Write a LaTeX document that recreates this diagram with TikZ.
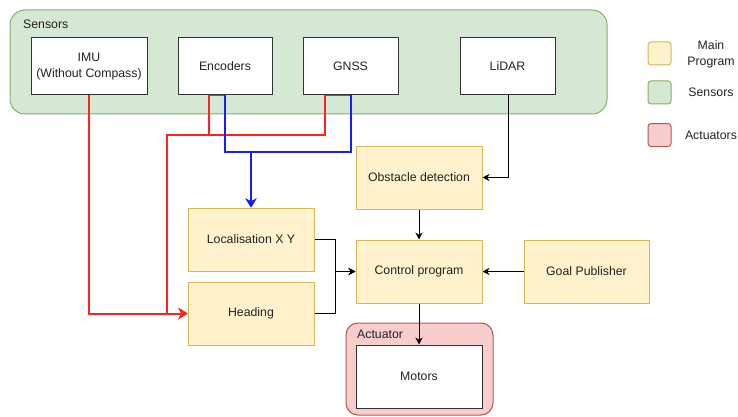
\documentclass[tikz,border=0pt]{standalone}
\usepackage{fontspec}
\setmainfont{Liberation Sans}
\usetikzlibrary{arrows.meta}
\definecolor{yfill}{HTML}{FFF2CC}
\definecolor{ydraw}{HTML}{D6B656}
\definecolor{gfill}{HTML}{D5E8D4}
\definecolor{gdraw}{HTML}{82B366}
\definecolor{rfill}{HTML}{F8CECC}
\definecolor{rdraw}{HTML}{B85450}
\definecolor{txt}{HTML}{222222}
\definecolor{redl}{HTML}{FF2020}
\definecolor{bluel}{HTML}{1A1AFF}
\pgfdeclarelayer{bg}
\pgfdeclarelayer{edges}
\pgfsetlayers{bg,edges,main}
\begin{document}
\begin{tikzpicture}[x=1pt,y=-1pt,
  lbl/.style={font=\fontsize{12.3}{15.5}\selectfont, text=txt, align=center, inner sep=0pt},
  box/.style={lbl, draw=black!80, line width=1pt, fill=white, minimum width=126pt, minimum height=57pt},
  ybox/.style={box, fill=yfill, draw=ydraw, line width=1pt, minimum height=63pt},
  grp/.style={rounded corners=#1, line width=1pt},
  leg/.style={rounded corners=3pt, line width=1pt, minimum width=23pt, minimum height=23pt, inner sep=0pt},
  bline/.style={draw=black, line width=0.9pt, -{Stealth[length=7pt,width=7pt]}},
  rline/.style={draw=redl, line width=2pt, -{Stealth[length=9pt,width=11pt]}},
  uline/.style={draw=bluel, line width=2pt, -{Stealth[length=9pt,width=11pt]}}
]
\useasboundingbox (0,0) rectangle (738,417);

% groups
\begin{pgfonlayer}{bg}
\node[grp=15pt, fill=gfill, draw=gdraw, minimum width=597pt, minimum height=104pt, inner sep=0pt] (sensors) at (308.5,62) {};
\node[grp=12pt, fill=rfill, draw=rdraw, minimum width=147pt, minimum height=92pt, inner sep=0pt] (actg) at (419.5,369) {};
\end{pgfonlayer}
\node[lbl, anchor=west] (sensorslbl) at (23,24) {Sensors};
\node[lbl, anchor=west] (actlbl) at (357,334) {Actuator};

% sensor boxes
\node[box, minimum width=116pt] (imu) at (89,66.5) {IMU\\(Without Compass)};
\node[box, minimum width=94pt] (enc) at (225,66.5) {Encoders};
\node[box, minimum width=95pt] (gnss) at (350.5,66.5) {GNSS};
\node[box, minimum width=95pt] (lidar) at (507.5,66.5) {LiDAR};

% program boxes
\node[ybox] (obst) at (419,177.5) {Obstacle detection};
\node[ybox] (ctrl) at (419,271.5) {Control program};
\node[ybox] (loc) at (251,239.5) {Localisation X Y};
\node[ybox] (head) at (251,313.5) {Heading};
\node[ybox, minimum width=125pt] (goal) at (586.5,271.5) {Goal Publisher};
\node[box, minimum height=63pt] (motors) at (419,376.5) {Motors};

% legend
\node[leg, fill=yfill, draw=ydraw] (legy) at (659.5,53.5) {};
\node[leg, fill=gfill, draw=gdraw] (legg) at (659.5,92.5) {};
\node[leg, fill=rfill, draw=rdraw] (legr) at (659.5,135) {};
\node[lbl] (legyt) at (711,54.5) {Main\\Program};
\node[lbl] (leggt) at (711,92.5) {Sensors};
\node[lbl] (legrt) at (711,135) {Actuators};

% junction coordinates
\coordinate (rj) at (167,135);
\coordinate (bj) at (251,152);
\coordinate (mj) at (335,271.5);

\begin{pgfonlayer}{edges}
\draw[rline] (imu.south) |- (head.west);
\draw[rline] (enc.south) -- ++(-16,0) |- (rj) |- (head.west);
\draw[rline] (gnss.south) -- ++(-25.5,0) |- (rj) |- (head.west);
\draw[uline] (enc.south) |- (bj) -- (loc.north);
\draw[uline] (gnss.south) |- (bj) -- (loc.north);
\draw[bline] ([xshift=0.5pt]lidar.south) |- (obst.east);
\draw[bline] (obst.south) -- (ctrl.north);
\draw[bline] (loc.east) -| (mj) -- (ctrl.west);
\draw[bline] (head.east) -| (mj) -- (ctrl.west);
\draw[bline] (goal.west) -- (ctrl.east);
\draw[bline] (ctrl.south) -- (motors.north);
\end{pgfonlayer}
\end{tikzpicture}
\end{document}
